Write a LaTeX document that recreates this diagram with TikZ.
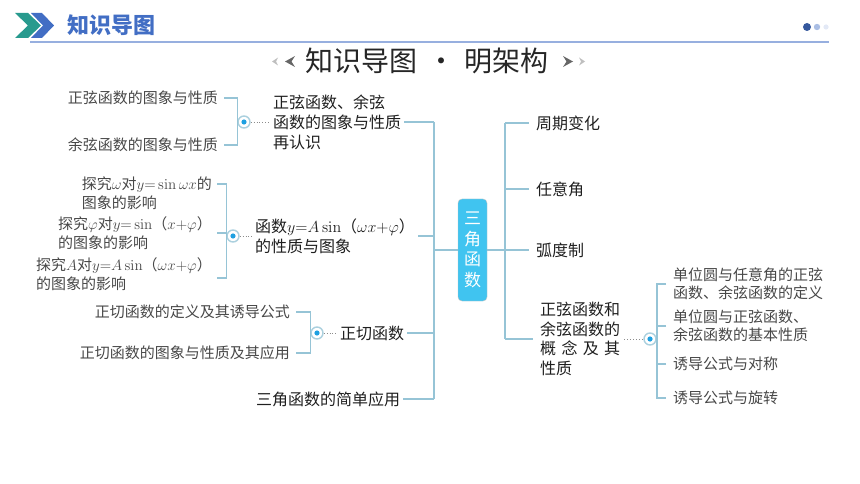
\RequirePackage{fix-cm}
\documentclass[tikz,border=0pt]{standalone}
\usepackage[no-math]{fontspec}
\setmainfont{Noto Sans CJK SC}
\usetikzlibrary{positioning}
\definecolor{LinkColor}{RGB}{150,196,214}
\definecolor{CoreColor}{RGB}{64,196,240}
\definecolor{HeadBlue}{RGB}{66,110,196}
\definecolor{HeadTeal}{RGB}{40,154,142}
\definecolor{KnotColor}{RGB}{30,160,225}

\begin{document}
\begin{tikzpicture}[
    x=1pt, y=-1pt,
    branch/.style={
        inner sep=0pt, align=left, text=black!88,
        font=\fontsize{16}{20}\selectfont
    },
    leaf/.style={
        inner sep=0pt, align=left, text=black!72,
        font=\fontsize{15}{19}\selectfont
    },
    core/.style={
        draw=black!25, fill=CoreColor, rounded corners=4pt,
        minimum width=29pt, minimum height=102pt, inner sep=0pt,
        align=center, text=white, font=\fontsize{17}{20.5}\selectfont
    },
    knot/.style={
        circle, draw=LinkColor!80, line width=1.4pt, fill=white,
        minimum size=12pt, inner sep=0pt,
        path picture={\fill[KnotColor] (path picture bounding box.center) circle (2.6pt);}
    },
    link/.style={draw=LinkColor, line width=1.6pt},
    dotlink/.style={draw=black!45, dotted, line width=0.9pt},
]
\useasboundingbox (0,0) rectangle (860,484);

%% Header bar
\fill[HeadTeal] (15,13) -- (28,13) -- (41,25.5) -- (28,38) -- (15,38) -- (28,25.5) -- cycle;
\fill[HeadBlue] (31,13) -- (42,13) -- (54,25.5) -- (42,38) -- (31,38) -- (43,25.5) -- cycle;
\node[font=\fontsize{22}{24}\selectfont\bfseries, text=HeadBlue, anchor=west, inner sep=0pt]
    (head) at (67,25) {知识导图};
\draw[HeadBlue!55, line width=1.2pt] (30,42) -- (829,42);
\fill[HeadBlue!80!black] (807,27) circle (4);
\fill[HeadBlue!45] (817,27) circle (3.2);
\fill[HeadBlue!15] (826,27) circle (2.6);

%% Title
\node[font=\fontsize{28}{30}\selectfont, text=black!85] (title) at (427,61)
    {知识导图\hspace{0.35em}·\hspace{0.35em}明架构};
\fill[black!25] (272,61.5) -- (278,57.5) -- (276,61.5) -- (278,65.5) -- cycle;
\fill[black!60] (285,61.5) -- (295,56) -- (291.5,61.5) -- (295,67) -- cycle;
\fill[black!60] (573,61.5) -- (563,56) -- (566.5,61.5) -- (563,67) -- cycle;
\fill[black!25] (585,61.5) -- (579,57.5) -- (581,61.5) -- (579,65.5) -- cycle;

%% Center
\node[core] (core) at (472.5,250) {三\\角\\函\\数};
\coordinate (trunkL) at (434,250);
\coordinate (trunkR) at (505,250);
\draw[link] (core.west) -- (trunkL);
\draw[link] (core.east) -- (trunkR);

%% Left branches
\node[branch, anchor=west] (b1) at (273,122) {正弦函数、余弦\\函数的图象与性质\\再认识};
\node[branch, anchor=west] (b2) at (255,236) {函数$y{=}A\sin$（$\omega x{+}\varphi$）\\的性质与图象};
\node[branch, anchor=west] (b3) at (340,333) {正切函数};
\node[branch, anchor=west] (b4) at (256,399) {三角函数的简单应用};

\draw[link] ([xshift=3pt]b1.east) -- (b1.east -| trunkL);
\draw[link] ([xshift=3pt]b2.east) -- (b2.east -| trunkL);
\draw[link] ([xshift=3pt]b3.east) -- (b3.east -| trunkL);
\draw[link] ([xshift=3pt]b4.east) -- (b4.east -| trunkL);
\draw[link] (b1.east -| trunkL) -- (b4.east -| trunkL);

%% Group 1
\node[knot] (k1) at (244,122) {};
\draw[dotlink] (k1.east) -- ([xshift=-3pt]b1.west);
\node[leaf, anchor=east] (p1) at (218,98) {正弦函数的图象与性质};
\node[leaf, anchor=east] (p2) at (218,145) {余弦函数的图象与性质};
\draw[link] ([xshift=6pt]p1.east) -| (k1.west) |- ([xshift=6pt]p2.east);

%% Group 2
\node[knot] (k2) at (233,236) {};
\draw[dotlink] (k2.east) -- ([xshift=-3pt]b2.west);
\node[leaf, anchor=east] (m1) at (212,193) {探究$\omega$对$y{=}\sin\omega x$的\\图象的影响};
\node[leaf, anchor=east] (m2) at (212,233) {探究$\varphi$对$y{=}\sin$（$x{+}\varphi$）\\的图象的影响};
\node[leaf, anchor=east] (m3) at (212,274) {探究$A$对$y{=}A\sin$（$\omega x{+}\varphi$）\\的图象的影响};
\draw[link] ([xshift=5pt,yshift=9pt]m1.east) -| (k2.west) |- ([xshift=5pt,yshift=-4pt]m3.east);
\draw[link] ([xshift=5pt]m2.east) -- (m2.east -| k2.west);

%% Group 3
\node[knot] (k3) at (317,333) {};
\draw[dotlink] (k3.east) -- ([xshift=-3pt]b3.west);
\node[leaf, anchor=east] (n1) at (290,312) {正切函数的定义及其诱导公式};
\node[leaf, anchor=east] (n2) at (290,353) {正切函数的图象与性质及其应用};
\draw[link] ([xshift=6pt]n1.east) -| (k3.west) |- ([xshift=6pt]n2.east);

%% Right branches
\node[branch, anchor=west] (r1) at (536,123) {周期变化};
\node[branch, anchor=west] (r2) at (536,189) {任意角};
\node[branch, anchor=west] (r3) at (536,250) {弧度制};
\node[branch, anchor=west, font=\fontsize{16}{19.5}\selectfont] (r4) at (540,339)
    {正弦函数和\\余弦函数的\\\makebox[5em][s]{概\hfill 念\hfill 及\hfill 其}\\性质};

\draw[link] (r1.west -| trunkR) -- ([xshift=-7pt]r1.west);
\draw[link] (r2.west -| trunkR) -- ([xshift=-7pt]r2.west);
\draw[link] (r3.west -| trunkR) -- ([xshift=-7pt]r3.west);
\draw[link] (r4.west -| trunkR) -- ([xshift=-7pt]r4.west);
\draw[link] (r1.west -| trunkR) -- (r4.west -| trunkR);

%% Group 4
\node[knot] (k4) at (650,339) {};
\draw[dotlink] ([xshift=4pt]r4.east) -- (k4.west);
\node[leaf, anchor=west, font=\fontsize{15}{18}\selectfont] (q1) at (673,284) {单位圆与任意角的正弦\\函数、余弦函数的定义};
\node[leaf, anchor=west, font=\fontsize{15}{18}\selectfont] (q2) at (673,326) {单位圆与正弦函数、\\余弦函数的基本性质};
\node[leaf, anchor=west] (q3) at (673,364) {诱导公式与对称};
\node[leaf, anchor=west] (q4) at (673,398) {诱导公式与旋转};
\draw[link] ([xshift=-7pt]q1.west) -| (k4.east) |- ([xshift=-7pt]q4.west);
\draw[link] ([xshift=-7pt]q2.west) -- (q2.west -| k4.east);
\draw[link] ([xshift=-7pt]q3.west) -- (q3.west -| k4.east);

\end{tikzpicture}
\end{document}
